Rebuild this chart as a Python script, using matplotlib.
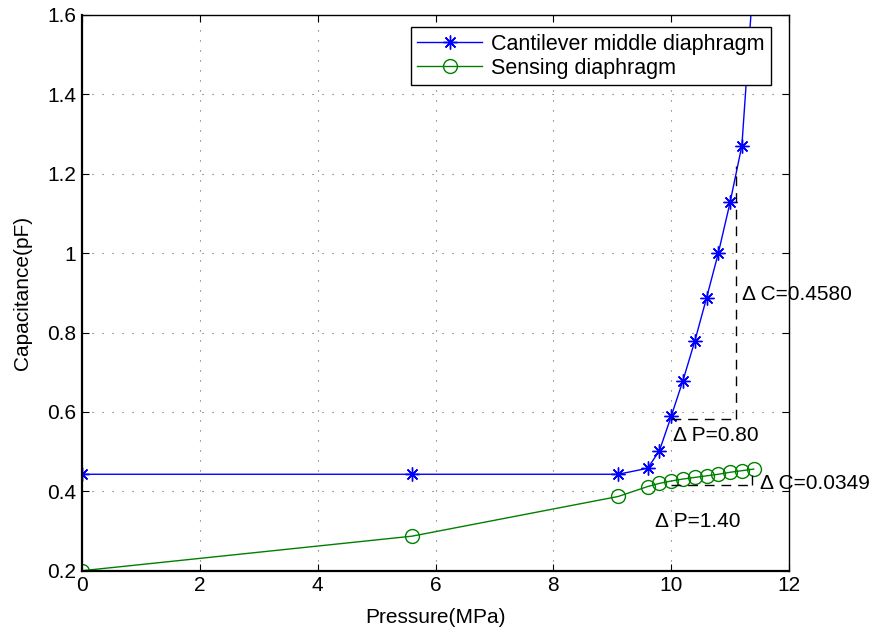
import matplotlib
matplotlib.use("Agg")
import matplotlib.pyplot as plt

plt.rcParams['font.family'] = ['Liberation Sans', 'DejaVu Sans']

# data
p_cant = [0, 5.6, 9.1, 9.6, 9.8, 10.0, 10.2, 10.4, 10.6, 10.8, 11.0, 11.2, 11.4]
c_cant = [0.443, 0.443, 0.443, 0.458, 0.502, 0.589, 0.679, 0.778, 0.887, 1.000, 1.128, 1.271, 1.70]

p_sens = [0, 5.6, 9.1, 9.6, 9.8, 10.0, 10.2, 10.4, 10.6, 10.8, 11.0, 11.2, 11.4]
c_sens = [0.200, 0.287, 0.387, 0.412, 0.420, 0.426, 0.431, 0.435, 0.439, 0.443, 0.448, 0.452, 0.456]

labels = ['Cantilever middle diaphragm', 'Sensing diaphragm']

fig = plt.figure(figsize=(8.76, 6.3), dpi=100)
ax = fig.add_axes([0.0936, 0.0941, 0.8071, 0.8821])

# MATLAB-style asterisk: 8 spokes
ax.plot(p_cant, c_cant, color='#0000ff', marker=(8, 2, 0), markersize=10, lw=1.0,
        markeredgewidth=1.0, label=labels[0])
ax.plot(p_sens, c_sens, color='#008000', marker='o', markersize=10, lw=1.0,
        markerfacecolor='none', markeredgewidth=1.0, label=labels[1])

# delta annotations (dashed guides)
dash = (0, (7, 5))
ax.plot([10.0, 11.1], [0.582, 0.582], color='k', lw=1.0, linestyle=dash)
ax.plot([11.1, 11.1], [0.582, 1.22], color='k', lw=1.0, linestyle=dash)
ax.plot([10.0, 11.35], [0.417, 0.417], color='k', lw=1.0, linestyle=dash)
ax.plot([11.38, 11.38], [0.417, 0.456], color='k', lw=1.0, linestyle=dash)

ax.text(11.2, 0.897, 'Δ C=0.4580', fontsize=15, ha='left', va='center', clip_on=False)
ax.text(10.03, 0.54, 'Δ P=0.80', fontsize=15, ha='left', va='center')
ax.text(11.5, 0.42, 'Δ C=0.0349', fontsize=15, ha='left', va='center', clip_on=False)
ax.text(9.73, 0.324, 'Δ P=1.40', fontsize=15, ha='left', va='center')

ax.set_xlim(0, 12)
ax.set_ylim(0.2, 1.6)
ax.set_xticks([0, 2, 4, 6, 8, 10, 12])
ax.set_yticks([0.2, 0.4, 0.6, 0.8, 1.0, 1.2, 1.4, 1.6])
ax.set_yticklabels(['0.2', '0.4', '0.6', '0.8', '1', '1.2', '1.4', '1.6'])
ax.tick_params(direction='in', length=5, labelsize=15, top=True, right=True, pad=4)

ax.grid(True, color='#606060', linestyle=(0, (1, 8)), linewidth=0.8)

for side in ['left', 'bottom']:
    ax.spines[side].set_linewidth(1.6)
for side in ['top', 'right']:
    ax.spines[side].set_linewidth(1.0)

ax.set_xlabel('Pressure(MPa)', fontsize=15, labelpad=9)
ax.set_ylabel('Capacitance(pF)', fontsize=15, labelpad=11)

leg = ax.legend(loc='upper right', bbox_to_anchor=(0.974, 0.978), borderaxespad=0,
                fontsize=15.5, fancybox=False, edgecolor='k', framealpha=1,
                handlelength=3.0, handletextpad=0.4, borderpad=0.3, labelspacing=0.15)
leg.get_frame().set_linewidth(1.0)

fig.savefig('out.png', dpi=100)
